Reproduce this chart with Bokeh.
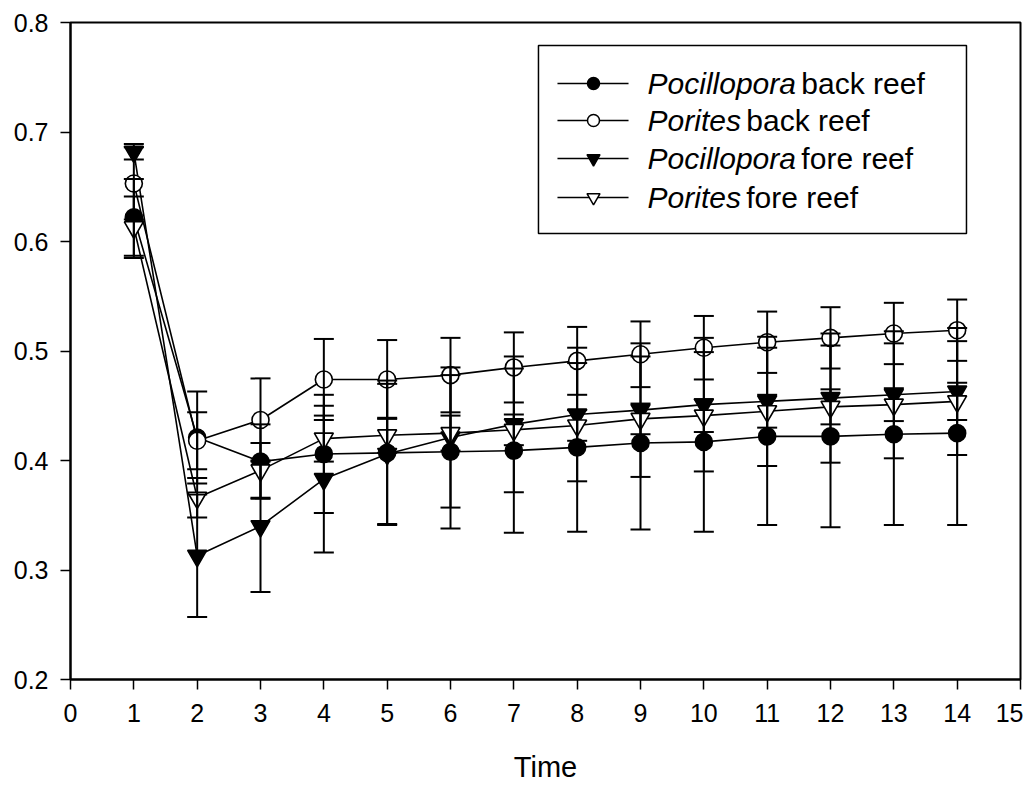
from bokeh.plotting import figure
from bokeh.models import (ColumnDataSource, Whisker, TeeHead, FixedTicker,
                          PrintfTickFormatter, Range1d)
from bokeh.core.properties import value
from bokeh.embed import file_html
from bokeh.resources import INLINE

# ---------------- data ----------------
time = [1, 2, 3, 4, 5, 6, 7, 8, 9, 10, 11, 12, 13, 14]

poc_back = [0.622, 0.421, 0.399, 0.406, 0.407, 0.408, 0.409, 0.412, 0.416, 0.417, 0.422, 0.422, 0.424, 0.425]
poc_back_err = [0.035, 0.042, 0.034, 0.054, 0.066, 0.070, 0.075, 0.077, 0.079, 0.082, 0.081, 0.083, 0.083, 0.084]

por_back = [0.653, 0.418, 0.437, 0.474, 0.474, 0.478, 0.485, 0.491, 0.497, 0.503, 0.508, 0.512, 0.516, 0.519]
por_back_err = [0.033, 0.026, 0.038, 0.037, 0.036, 0.034, 0.032, 0.031, 0.030, 0.029, 0.028, 0.028, 0.028, 0.028]

poc_fore = [0.682, 0.313, 0.340, 0.383, 0.406, 0.421, 0.433, 0.442, 0.446, 0.451, 0.454, 0.457, 0.460, 0.463]
poc_fore_err = [0.007, 0.056, 0.060, 0.067, 0.064, 0.064, 0.062, 0.061, 0.061, 0.061, 0.059, 0.059, 0.058, 0.058]

por_fore = [0.613, 0.366, 0.391, 0.420, 0.423, 0.425, 0.428, 0.432, 0.438, 0.441, 0.445, 0.449, 0.451, 0.454]
por_fore_err = [0.028, 0.018, 0.025, 0.021, 0.016, 0.016, 0.014, 0.014, 0.014, 0.015, 0.015, 0.016, 0.015, 0.017]

legend_genus = ["Pocillopora", "Porites", "Pocillopora", "Porites"]
legend_rest = ["back reef", "back reef", "fore reef", "fore reef"]

x_ticks = [0, 1, 2, 3, 4, 5, 6, 7, 8, 9, 10, 11, 12, 13, 14, 15]
y_ticks = [0.2, 0.3, 0.4, 0.5, 0.6, 0.7, 0.8]
x_label = "Time"

# ---------------- styling / layout ----------------
FONT = "Liberation Sans"
series = [
    (poc_back, poc_back_err, "circle", "black", 17),
    (por_back, por_back_err, "circle", "white", 17),
    (poc_fore, poc_fore_err, "inverted_triangle", "black", 19),
    (por_fore, por_fore_err, "inverted_triangle", "white", 19),
]

p = figure(frame_width=950, frame_height=657,
           x_range=Range1d(0, 15), y_range=Range1d(0.2, 0.8),
           output_backend="svg", toolbar_location=None,
           min_border_left=70, min_border_top=22, min_border_right=3,
           min_border_bottom=104)
p.background_fill_color = "white"
p.border_fill_color = "white"
p.xgrid.visible = False
p.ygrid.visible = False
p.outline_line_color = "black"
p.outline_line_width = 2
p.outline_line_alpha = 1

for ax in (p.xaxis[0], p.yaxis[0]):
    ax.axis_line_width = 2
    ax.major_tick_line_width = 1.5
    ax.major_tick_out = 10
    ax.major_tick_in = 0
    ax.minor_tick_out = 0
    ax.minor_tick_in = 0
    ax.major_label_text_font = FONT
    ax.major_label_text_color = "black"
    ax.axis_line_color = "black"
    ax.major_tick_line_color = "black"

p.xaxis.ticker = FixedTicker(ticks=x_ticks)
p.yaxis.ticker = FixedTicker(ticks=y_ticks)
p.yaxis.formatter = PrintfTickFormatter(format="%.1f")
p.xaxis.major_label_text_font_size = "25px"
p.yaxis.major_label_text_font_size = "25px"
p.xaxis.major_label_standoff = 14
p.yaxis.major_label_standoff = 12
p.xaxis.axis_label = x_label
p.xaxis.axis_label_text_font = FONT
p.xaxis.axis_label_text_font_size = "29px"
p.xaxis.axis_label_text_font_style = "normal"
p.xaxis.axis_label_text_color = "black"
p.xaxis.axis_label_standoff = 26

sources = []
for vals, err, marker, fill, size in series:
    src = ColumnDataSource(dict(
        x=time, y=vals,
        upper=[v + e for v, e in zip(vals, err)],
        lower=[v - e for v, e in zip(vals, err)]))
    sources.append(src)
    p.line("x", "y", source=src, line_color="black", line_width=1.6)

for (vals, err, marker, fill, size), src in zip(series, sources):
    p.scatter("x", "y", source=src, marker=marker, size=size,
              fill_color=fill, line_color="black", line_width=1.6)

for src in sources:
    w = Whisker(base="x", upper="upper", lower="lower", source=src,
                line_color="black", line_width=2, level="annotation",
                upper_head=TeeHead(size=20, line_width=2, line_color="black"),
                lower_head=TeeHead(size=20, line_width=2, line_color="black"))
    p.add_layout(w)

# ---------------- legend (drawn manually for mixed italic text) ----------------
LEG_LEFT, LEG_RIGHT, LEG_TOP, LEG_BOTTOM = 7.389, 14.147, 0.779, 0.6073
ROW_Y = [0.7443, 0.7105, 0.6758, 0.6402]
LINE_X0, LINE_X1, MARK_X, TEXT_X = 7.689, 8.811, 8.258, 9.111
REST_X = [11.54, 10.67, 11.54, 10.67]

p.quad(left=[LEG_LEFT], right=[LEG_RIGHT], top=[LEG_TOP], bottom=[LEG_BOTTOM],
       fill_color="white", line_color="black", line_width=1.5)
p.segment(x0=[LINE_X0] * 4, x1=[LINE_X1] * 4, y0=ROW_Y, y1=ROW_Y,
          line_color="black", line_width=1.6)
for (vals, err, marker, fill, size), ry in zip(series, ROW_Y):
    p.scatter(x=[MARK_X], y=[ry], marker=marker, size=12 if marker == "circle" else 13,
              fill_color=fill, line_color="black", line_width=1.5)
p.text(x=[TEXT_X] * 4, y=ROW_Y, text=legend_genus, text_font=value(FONT),
       text_font_size="30px", text_font_style="italic", text_baseline="middle",
       text_align="left", text_color="black")
p.text(x=REST_X, y=ROW_Y, text=legend_rest, text_font=value(FONT),
       text_font_size="30px", text_baseline="middle", text_align="left",
       text_color="black")

open("out.html", "w").write(file_html(p, INLINE))
